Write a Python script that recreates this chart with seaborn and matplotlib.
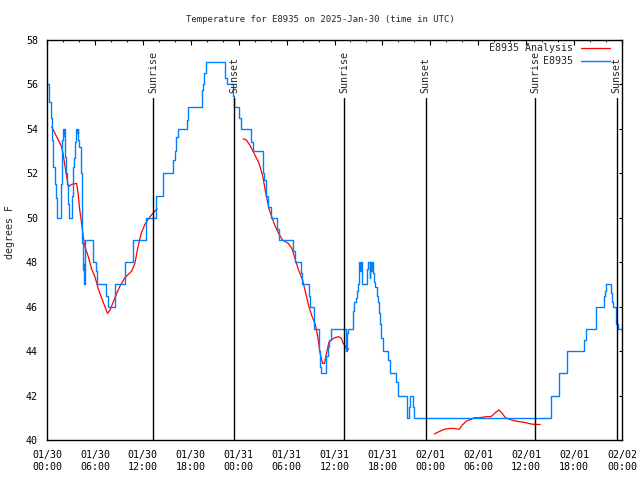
"""
Temperature for station E8935, observations vs analysis, with sunrise/sunset markers
"""

import pandas as pd
import matplotlib.pyplot as plt
import seaborn as sns
from matplotlib.lines import Line2D

sns.set_style("white")
plt.rcParams['font.family'] = ['DejaVu Sans Mono', 'DejaVu Sans']
plt.rcParams['font.size'] = 7.2

# hours since 01/30 00:00 UTC
obs_hours = [0.0, 0.3, 0.5, 0.67, 0.79, 1.0, 1.12, 1.2, 1.29, 1.71, 1.83, 2.04, 2.12, 2.17,
             2.25, 2.37, 2.46, 2.67, 2.79, 3.17, 3.29, 3.42, 3.5, 3.62, 3.75, 3.83, 3.92,
             4.04, 4.21, 4.33, 4.42, 4.54, 4.6, 4.67, 4.75, 5.79, 6.12, 6.29, 7.33, 7.58,
             8.5, 9.75, 10.79, 12.37, 13.7, 14.54, 15.75, 16.0, 16.2, 16.4, 17.5, 17.66,
             19.4, 19.54, 19.7, 19.96, 22.25, 22.54, 23.3, 23.45, 24.1, 24.25, 25.6, 25.8,
             27.0, 27.2, 27.45, 27.7, 28.0, 28.8, 29.0, 30.8, 31.0, 31.8, 31.95, 32.8, 32.9,
             33.4, 34.0, 34.1, 34.2, 34.3, 34.95, 35.15, 35.35, 35.5, 37.4, 37.5, 37.6,
             37.75, 38.3, 38.5, 38.7, 38.8, 38.9, 39.04, 39.1, 39.25, 39.3, 39.4, 40.04,
             40.25, 40.4, 40.46, 40.58, 40.7, 40.8, 41.0, 41.1, 41.33, 41.5, 41.6, 41.7,
             41.8, 42.04, 42.75, 43.0, 43.75, 43.9, 45.04, 45.29, 45.46, 45.8, 46.0, 63.1,
             64.1, 65.15, 67.3, 67.45, 68.7, 69.8, 69.9, 70.0, 70.65, 70.8, 70.9, 71.2,
             71.3, 71.5, 72.0]
obs_temp = [56, 55.2, 54.5, 53.5, 52.3, 51.5, 50.9, 50.4, 50, 51.5, 53.5, 54, 53.7, 54,
            52.75, 52, 51.5, 50.6, 50, 51, 52.3, 52.7, 53.4, 54, 53.8, 54, 53.5,
            53.2, 52, 49.7, 48.85, 47.65, 47.9, 47, 49, 48, 47.6, 47, 46.5, 46,
            47, 48, 49, 50, 51, 52, 52.6, 53, 53.65, 54, 54.4, 55,
            55.75, 56, 56.5, 57, 56.3, 56, 55.5, 55, 54.5, 54, 53.4, 53,
            52, 51.7, 51, 50.5, 50, 49.5, 49, 48.5, 48, 47.5, 47, 46.5, 46,
            45, 44.5, 44, 43.3, 43, 43.8, 44.2, 44.5, 45, 44.5, 44, 44.8,
            45, 45.8, 46.2, 46.4, 46.7, 47, 47.6, 48, 47.6, 48, 47, 47.7,
            48, 47.3, 48, 47.6, 48, 47.5, 47.1, 46.9, 46.5, 46.2, 45.7, 45.2,
            44.6, 44, 43.6, 43, 42.6, 42, 41, 41.5, 42, 41.5, 41, 42,
            43, 44, 44.5, 45, 46, 46.5, 46.7, 47, 46.6, 46.2, 46, 45.5,
            45.2, 45, 45]

ana_hours_1 = [0.58, 1.83, 2.0, 2.46, 2.67, 3.08, 3.7, 3.9, 4.1, 4.33, 4.54, 4.75, 5.17,
               5.58, 6.0, 6.42, 6.83, 7.25, 7.58, 7.9, 8.5, 9.1, 9.75, 10.6, 11.0, 11.4,
               11.8, 12.25, 12.9, 13.5, 13.8]
ana_temp_1 = [54.1, 53.2, 52.9, 51.85, 51.4, 51.5, 51.55, 51.1, 50.35, 49.75, 49.15, 48.7,
              48.25, 47.7, 47.35, 46.8, 46.4, 46.0, 45.7, 45.85, 46.4, 46.9, 47.3, 47.6,
              47.95, 48.7, 49.3, 49.7, 50.05, 50.3, 50.4]
ana_hours_2 = [24.55, 24.96, 25.4, 25.8, 26.2, 26.5, 27.0, 27.4, 27.8, 28.2, 28.6, 29.0,
               29.5, 30.2, 30.7, 31.1, 31.5, 32.0, 32.5, 32.8, 33.2, 33.6, 33.9, 34.2,
               34.5, 34.75, 35.0, 35.3, 35.6, 36.0, 36.5, 36.8, 37.1, 37.4, 37.5, 37.8]
ana_temp_2 = [53.55, 53.5, 53.27, 53.0, 52.7, 52.5, 51.9, 51.1, 50.4, 49.98, 49.6, 49.3,
              49.0, 48.85, 48.6, 48.1, 47.65, 47.2, 46.45, 46.0, 45.55, 45.2, 44.65, 43.9,
              43.45, 43.45, 43.9, 44.4, 44.5, 44.6, 44.65, 44.6, 44.35, 44.2, 44.05, 44.1]
ana_hours_3 = [48.5, 49.1, 49.75, 50.4, 51.0, 51.6, 52.0, 52.5, 53.1, 53.5, 54.1, 55.0,
               55.6, 56.2, 56.6, 57.0, 57.4, 57.9, 58.5, 59.1, 59.96, 60.6, 61.2, 61.75]
ana_temp_3 = [40.27, 40.38, 40.48, 40.52, 40.52, 40.48, 40.67, 40.85, 40.93, 41.0, 41.0,
              41.05, 41.05, 41.25, 41.35, 41.2, 41.0, 40.93, 40.87, 40.83, 40.78, 40.72,
              40.7, 40.7]

event_hours = [13.27, 23.42, 37.2, 47.4, 61.15, 71.32]
event_labels = ['Sunrise', 'Sunset', 'Sunrise', 'Sunset', 'Sunrise', 'Sunset']

tick_hours = list(range(0, 73, 6))
tick_labels = ['01/30\n00:00', '01/30\n06:00', '01/30\n12:00', '01/30\n18:00',
               '01/31\n00:00', '01/31\n06:00', '01/31\n12:00', '01/31\n18:00',
               '02/01\n00:00', '02/01\n06:00', '02/01\n12:00', '02/01\n18:00',
               '02/02\n00:00']

blue = '#0080ff'

obs = pd.DataFrame({'hour': obs_hours, 'temp': obs_temp})
ana = pd.concat([
    pd.DataFrame({'hour': ana_hours_1, 'temp': ana_temp_1, 'seg': 1}),
    pd.DataFrame({'hour': ana_hours_2, 'temp': ana_temp_2, 'seg': 2}),
    pd.DataFrame({'hour': ana_hours_3, 'temp': ana_temp_3, 'seg': 3}),
])

fig = plt.figure(figsize=(6.4, 4.8), dpi=100)
ax = fig.add_axes([47 / 640, 1 - 440 / 480, 575 / 640, 400 / 480])

sns.lineplot(data=ana, x='hour', y='temp', units='seg', estimator=None,
             color='red', linewidth=0.9, ax=ax)
sns.lineplot(data=obs, x='hour', y='temp', color=blue, linewidth=1.0,
             drawstyle='steps-post', ax=ax)

# sunrise / sunset markers
for h, lab in zip(event_hours, event_labels):
    ax.axvline(h, ymin=0, ymax=0.854, color='black', linewidth=1.0)
    ax.text(h, 0.868, lab, transform=ax.get_xaxis_transform(), rotation=90,
            ha='center', va='bottom', fontsize=7.2)

ax.set_xlim(0, 72)
ax.set_ylim(40, 58)
ax.set_xticks(tick_hours)
ax.set_xticklabels(tick_labels, linespacing=1.25)
ax.set_xticks(range(0, 73, 2), minor=True)
ax.set_yticks(range(40, 59, 2))
ax.tick_params(axis='both', which='both', direction='in', top=True, right=True,
               colors='black', labelsize=7.2)
ax.tick_params(axis='x', which='major', length=3.4, pad=7)
ax.tick_params(axis='x', which='minor', length=1.7)
ax.tick_params(axis='y', which='major', length=2.5, pad=6.5)
for s in ax.spines.values():
    s.set_color('black')
    s.set_linewidth(1.0)

ax.set_xlabel('')
ax.set_ylabel('')
fig.text(10 / 640, 1 - 232 / 480, 'degrees F', rotation=90, ha='center', va='center',
         fontsize=7.2)
fig.text(0.5, 1 - 19 / 480, 'Temperature for E8935 on 2025-Jan-30 (time in UTC)',
         ha='center', va='center', fontsize=6.5)

handles = [Line2D([], [], color='red', linewidth=0.9),
           Line2D([], [], color=blue, linewidth=1.0)]
ax.legend(handles, ['E8935 Analysis', 'E8935'], loc='upper right',
          bbox_to_anchor=(610 / 640, 1 - 43 / 480), bbox_transform=fig.transFigure,
          frameon=False, markerfirst=False, borderpad=0, borderaxespad=0,
          handlelength=2.9, handletextpad=0.8, labelspacing=0.3, fontsize=7.2)

plt.savefig('out.png', dpi=100)
plt.close()
